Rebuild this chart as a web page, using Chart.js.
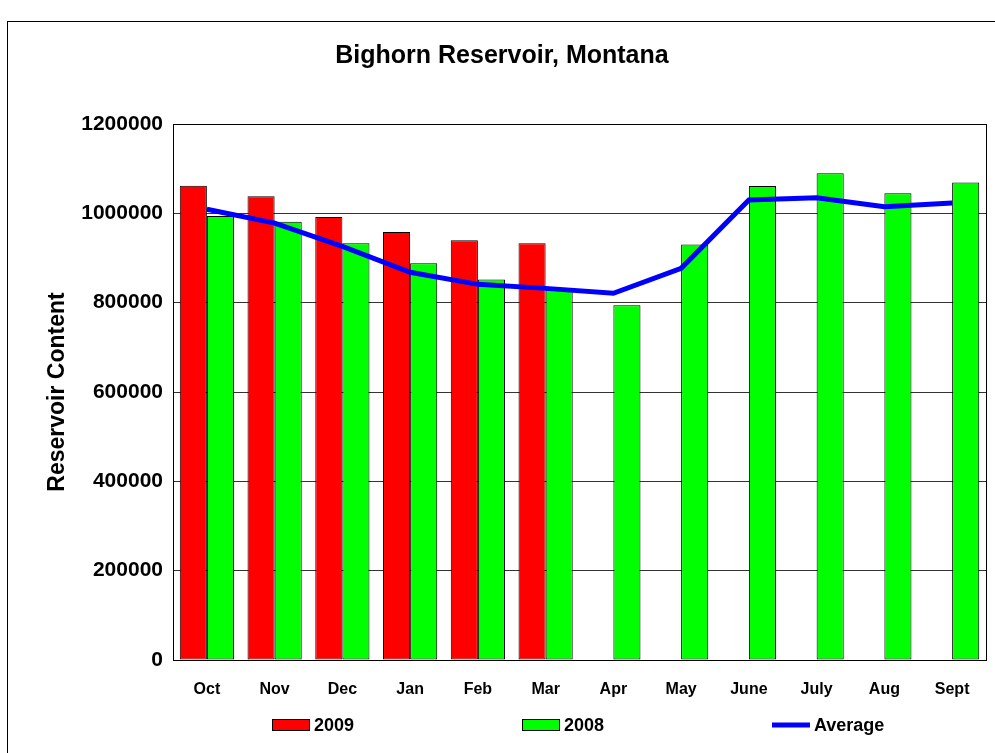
<!DOCTYPE html>
<html>
<head>
<meta charset="utf-8">
<title>Bighorn Reservoir, Montana</title>
<script src="https://cdn.jsdelivr.net/npm/chart.js@4.4.1/dist/chart.umd.min.js"></script>
<style>
    html, body { margin: 0; padding: 0; background: #fff; }
    #wrap { width: 995px; height: 753px; }
</style>
</head>
<body>
<div id="wrap"><canvas id="reservoirChart" width="995" height="753"></canvas></div>
<script>
// Bighorn Reservoir content by month
const months = ['Oct', 'Nov', 'Dec', 'Jan', 'Feb', 'Mar', 'Apr', 'May', 'June', 'July', 'Aug', 'Sept'];
const content2009 = [1062000, 1038000, 992000, 958000, 940000, 933000, null, null, null, null, null, null];
const content2008 = [994000, 981000, 933000, 888000, 852000, 829000, 794000, 930000, 1061000, 1090000, 1045000, 1069000];
const contentAverage = [1009000, 978000, 926000, 868000, 841000, 832000, 821000, 877000, 1030000, 1035000, 1015000, 1023000];
const yTicks = [0, 200000, 400000, 600000, 800000, 1000000, 1200000];

const FONT = "'Liberation Sans', Arial, sans-serif";

// Frame around the whole chart and box around the plot area
const framePlugin = {
    id: 'frame',
    beforeDatasetsDraw(chart) {
        const { ctx, chartArea } = chart;
        ctx.save();
        ctx.strokeStyle = '#000';
        ctx.lineWidth = 1;
        ctx.strokeRect(Math.round(chartArea.left) + 0.5, Math.round(chartArea.top) + 0.5,
            Math.round(chartArea.right - chartArea.left), Math.round(chartArea.bottom - chartArea.top));
        ctx.restore();
    },
    afterDraw(chart) {
        const ctx = chart.ctx;
        ctx.save();
        ctx.strokeStyle = '#000';
        ctx.lineWidth = 1;
        ctx.strokeRect(7.5, 21.5, 1000, 800);
        ctx.restore();
    }
};

// Legend spread across the bottom, like the Excel original
const bottomLegend = {
    id: 'bottomLegend',
    afterDraw(chart) {
        const ctx = chart.ctx;
        const y = 725;
        const startX = 272;
        const step = 250;
        ctx.save();
        ctx.font = `bold 18px ${FONT}`;
        ctx.textBaseline = 'middle';
        ctx.textAlign = 'left';
        chart.data.datasets.forEach((ds, i) => {
            const x = startX + i * step;
            if (ds.type === 'line') {
                ctx.strokeStyle = ds.borderColor;
                ctx.lineWidth = 5;
                ctx.beginPath();
                ctx.moveTo(x, y);
                ctx.lineTo(x + 38, y);
                ctx.stroke();
            } else {
                ctx.fillStyle = ds.backgroundColor;
                ctx.fillRect(x, y - 6, 38, 12);
                ctx.strokeStyle = '#000';
                ctx.lineWidth = 1;
                ctx.strokeRect(x + 0.5, y - 5.5, 37, 11);
            }
            ctx.fillStyle = '#000';
            ctx.fillText(ds.label, x + 42, y + 1);
        });
        ctx.restore();
    }
};

const ctx = document.getElementById('reservoirChart').getContext('2d');
new Chart(ctx, {
    type: 'bar',
    data: {
        labels: months,
        datasets: [{
            label: '2009',
            data: content2009,
            backgroundColor: '#FF0000',
            borderColor: '#000',
            borderWidth: 1,
            borderSkipped: false,
            order: 1
        }, {
            label: '2008',
            data: content2008,
            backgroundColor: '#00FF00',
            borderColor: '#000',
            borderWidth: 1,
            borderSkipped: false,
            order: 1
        }, {
            type: 'line',
            label: 'Average',
            data: contentAverage,
            borderColor: '#0000FF',
            backgroundColor: '#0000FF',
            borderWidth: 5,
            pointRadius: 0,
            tension: 0,
            order: 0
        }]
    },
    options: {
        responsive: false,
        animation: false,
        layout: { padding: { left: 18, right: 9, top: 0, bottom: 0 } },
        datasets: {
            bar: { categoryPercentage: 0.8, barPercentage: 1.0 }
        },
        plugins: {
            legend: { display: false },
            tooltip: { enabled: false },
            title: {
                display: true,
                text: 'Bighorn Reservoir, Montana',
                color: '#000',
                font: { family: FONT, size: 25, weight: 'bold' },
                padding: { top: 41, bottom: 53 }
            }
        },
        scales: {
            x: {
                grid: { display: false },
                border: { display: false },
                ticks: {
                    color: '#000',
                    font: { family: FONT, size: 16, weight: 'bold' },
                    padding: 12,
                    maxRotation: 0,
                    autoSkip: false
                },
                afterFit(scale) { scale.height = 93; }
            },
            y: {
                min: 0,
                max: 1200000,
                afterBuildTicks(scale) { scale.ticks = yTicks.map(v => ({ value: v })); },
                grid: { color: '#333', lineWidth: 1, drawTicks: false },
                border: { display: true, color: '#000' },
                ticks: {
                    color: '#000',
                    padding: 10,
                    font: { family: FONT, size: 21, weight: 'bold' },
                    callback: value => String(value)
                },
                title: {
                    display: true,
                    text: 'Reservoir Content',
                    color: '#000',
                    font: { family: FONT, size: 23, weight: 'bold' },
                    padding: { top: 26, bottom: 0 }
                },
                afterFit(scale) { scale.width = 155; }
            }
        }
    },
    plugins: [framePlugin, bottomLegend]
});
</script>
</body>
</html>
